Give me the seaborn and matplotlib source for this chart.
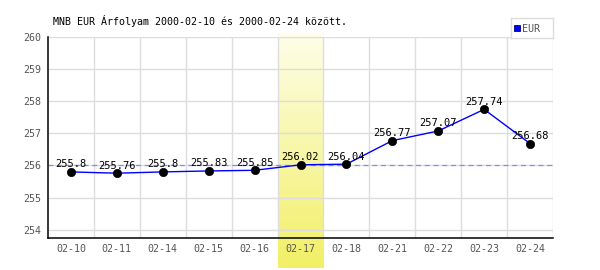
import numpy as np
import pandas as pd
import matplotlib
matplotlib.use("Agg")
import matplotlib.pyplot as plt
import seaborn as sns
from matplotlib.colors import LinearSegmentedColormap

dates = ["02-10", "02-11", "02-14", "02-15", "02-16", "02-17", "02-18", "02-21", "02-22", "02-23", "02-24"]
rates = [255.8, 255.76, 255.8, 255.83, 255.85, 256.02, 256.04, 256.77, 257.07, 257.74, 256.68]
labels = ["255.8", "255.76", "255.8", "255.83", "255.85", "256.02", "256.04", "256.77", "257.07", "257.74", "256.68"]
yticks = [254, 255, 256, 257, 258, 259, 260]
highlight = "02-17"
ref_value = 256.02
title = "MNB EUR Árfolyam 2000-02-10 és 2000-02-24 között."
series_name = "EUR"

df = pd.DataFrame({"date": dates, "rate": rates, "label": labels})
df["pos"] = np.arange(len(df))

sns.set_theme(style="white")
plt.rcParams["font.family"] = ["DejaVu Sans Mono"]

fig = plt.figure(figsize=(6, 2.7), dpi=100)
ax = fig.add_axes([48 / 600, 1 - 238 / 270, 505 / 600, (238 - 36.5) / 270])
n = len(dates)
YLIM = (253.75, 260)

# highlight band with vertical gradient (extends beyond the axes)
hi = dates.index(highlight)
grad = np.linspace(0, 1, 256).reshape(-1, 1)
cmap = LinearSegmentedColormap.from_list("yel", ["#f2ef66", "#fefee9"])
trans = ax.get_xaxis_transform()
fig_y0 = 1 - 268 / 270
fig_y1 = 1 - 33 / 270
ax_pos = ax.get_position()
ay0 = (fig_y0 - ax_pos.y0) / ax_pos.height
ay1 = (fig_y1 - ax_pos.y0) / ax_pos.height
ax.imshow(grad, cmap=cmap, aspect="auto", extent=(hi - 0.5, hi + 0.5, ay0, ay1),
          origin="lower", transform=trans, zorder=0, clip_on=False, interpolation="bilinear")

# grid
for y in yticks:
    ax.axhline(y, color="#dddddd", lw=1, zorder=1)
for b in np.arange(0.5, n - 0.5, 1.0):
    ax.axvline(b, color="#dddddd", lw=1, zorder=1)
ax.axvline(n - 0.5, color="#dddddd", lw=1, zorder=1)

ax.axhline(ref_value, color="#8888ff", lw=0.9, ls=(0, (4, 3)), zorder=2)

sns.lineplot(data=df, x="pos", y="rate", ax=ax, color="#0000ff", lw=1, zorder=3,
             legend=False)
sns.scatterplot(data=df, x="pos", y="rate", ax=ax, color="black", s=36, zorder=4,
                edgecolor="black", legend=False)
for p, r, l in zip(df["pos"], df["rate"], df["label"]):
    ax.text(p, r + 0.08, l, ha="center", va="bottom", fontsize=7.5, color="black", zorder=5)

ax.set_xticks(df["pos"])
ax.set_xticklabels(dates)
ax.set_yticks(yticks)
ax.set_yticklabels([str(t) for t in yticks])
ax.tick_params(axis="both", labelsize=7.2, colors="#555555", length=0)
ax.tick_params(axis="x", pad=4)
ax.tick_params(axis="y", pad=5)
ax.set_xlabel("")
ax.set_ylabel("")
for s in ["top", "right"]:
    ax.spines[s].set_visible(False)
for s in ["left", "bottom"]:
    ax.spines[s].set_color("black")
    ax.spines[s].set_linewidth(1.1)
ax.set_xlim(-0.5, n - 0.5)
ax.set_ylim(*YLIM)

fig.text(53 / 600, 1 - 21 / 270, title, fontsize=7.2, color="black", va="center", ha="left")

# legend box
leg_ax = fig.add_axes([511 / 600, 1 - 38 / 270, 42 / 600, 20 / 270])
leg_ax.set_xticks([]); leg_ax.set_yticks([])
for s in leg_ax.spines.values():
    s.set_color("#dddddd"); s.set_linewidth(1)
leg_ax.set_facecolor("white")
leg_ax.plot([0.15], [0.5], marker="s", ms=5, color="#0000ff", mec="#000080", mew=0.6)
leg_ax.set_xlim(0, 1); leg_ax.set_ylim(0, 1)
leg_ax.text(0.27, 0.45, series_name, fontsize=7.2, color="#555555", va="center", ha="left")

fig.savefig("out.png", dpi=100)
